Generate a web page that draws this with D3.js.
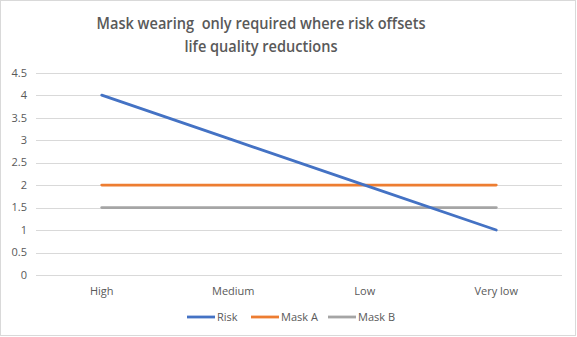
<!DOCTYPE html>
<html><head><meta charset="utf-8">
<script src="https://cdn.jsdelivr.net/npm/d3@7"></script>
<style>body{margin:0;background:#fff}svg{display:block}text{font-family:"Open Sans","Noto Sans",sans-serif;white-space:pre}</style>
</head><body><svg id="c" width="577" height="337"></svg>
<script>
const categories = ["High","Medium","Low","Very low"];
const riskValues = [4,3,2,1];
const maskAValues = [2,2,2,2];
const maskBValues = [1.5,1.5,1.5,1.5];
const yTicks = [0,0.5,1,1.5,2,2.5,3,3.5,4,4.5];
const titleLines = ["Mask wearing  only required where risk offsets","life quality reductions"];
const seriesNames = ["Risk","Mask A","Mask B"];
const seriesColors = ["#4472C4","#ED7D31","#A5A5A5"];

const svg = d3.select("#c");
svg.append("rect").attr("x",0.5).attr("y",0.5).attr("width",575).attr("height",335)
  .attr("fill","#fff").attr("stroke","#D9D9D9");

const x = d3.scaleBand().domain(categories).range([36,562]);
const y = d3.scaleLinear().domain([0,4.5]).range([275,72.7]);

svg.append("g").selectAll("line").data(yTicks).join("line")
  .attr("x1",36).attr("x2",562).attr("y1",d=>Math.round(y(d))+0.5).attr("y2",d=>Math.round(y(d))+0.5)
  .attr("stroke","#D9D9D9").attr("stroke-width",1);

svg.append("g").selectAll("text").data(yTicks).join("text")
  .attr("x",27).attr("y",d=>y(d)).attr("dy","0.35em").attr("text-anchor","end")
  .attr("font-size",11).attr("fill","#595959").text(d=>d);

svg.append("g").selectAll("text").data(categories).join("text")
  .attr("x",d=>x(d)+x.bandwidth()/2).attr("y",291).attr("dy","0.35em").attr("text-anchor","middle")
  .attr("font-size",11).attr("fill","#595959").text(d=>d);

const series = [riskValues, maskAValues, maskBValues];
const line = d3.line().x((d,i)=>x(categories[i])+x.bandwidth()/2).y(d=>y(d));
[2,1,0].forEach(k=>{
  svg.append("path").datum(series[k]).attr("d",line).attr("fill","none")
    .attr("stroke",seriesColors[k]).attr("stroke-width",2.8).attr("stroke-linecap","round");
});

const titleW = [329,153];
svg.append("g").selectAll("text").data(titleLines).join("text")
  .attr("x",261).attr("y",(d,i)=>29+i*23).attr("text-anchor","middle")
  .attr("textLength",(d,i)=>titleW[i]).attr("lengthAdjust","spacingAndGlyphs")
  .attr("font-size",17).attr("font-weight",600).attr("fill","#595959").text(d=>d);

const legX = [187,251,328];
seriesNames.forEach((n,k)=>{
  svg.append("line").attr("x1",legX[k]).attr("x2",legX[k]+28).attr("y1",317).attr("y2",317)
    .attr("stroke",seriesColors[k]).attr("stroke-width",2.8);
  svg.append("text").attr("x",legX[k]+30).attr("y",317).attr("dy","0.35em")
    .attr("font-size",11).attr("fill","#595959").text(n);
});
</script></body></html>
